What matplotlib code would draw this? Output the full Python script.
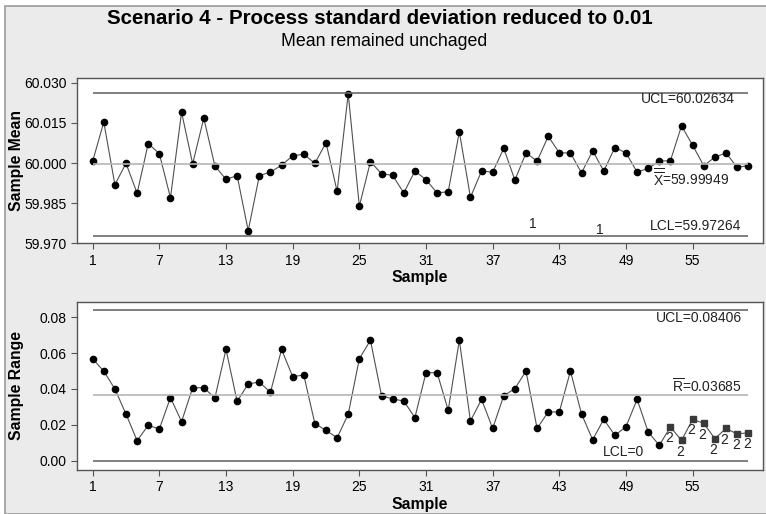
import matplotlib.pyplot as plt
from matplotlib.patches import Rectangle

plt.rcParams['font.family'] = ['Liberation Sans', 'DejaVu Sans']
plt.rcParams['mathtext.fontset'] = 'custom'
plt.rcParams['mathtext.rm'] = 'Liberation Sans'
plt.rcParams['mathtext.it'] = 'Liberation Sans'

# sample numbers 1..60
samples = list(range(1, 61))

# sample means
means = [60.0007, 60.0153, 59.9919, 59.9999, 59.9887, 60.0073, 60.0035, 59.9870, 60.0190, 59.9997,
         60.0168, 59.9989, 59.9939, 59.9953, 59.9747, 59.9953, 59.9966, 59.9992, 60.0027, 60.0033,
         59.9999, 60.0076, 59.9894, 60.0259, 59.9839, 60.0005, 59.9960, 59.9954, 59.9888, 59.9970,
         59.9938, 59.9888, 59.9893, 60.0117, 59.9872, 59.9970, 59.9966, 60.0055, 59.9936, 60.0038,
         60.0007, 60.0100, 60.0038, 60.0038, 59.9963, 60.0046, 59.9970, 60.0058, 60.0038, 59.9966,
         59.9980, 60.0007, 60.0009, 60.0139, 60.0066, 59.9990, 60.0022, 60.0038, 59.9984, 59.9990]

# sample ranges
ranges = [0.0569, 0.0499, 0.0400, 0.0260, 0.0112, 0.0197, 0.0177, 0.0352, 0.0218, 0.0407,
          0.0407, 0.0350, 0.0621, 0.0331, 0.0428, 0.0439, 0.0381, 0.0621, 0.0469, 0.0478,
          0.0207, 0.0169, 0.0128, 0.0259, 0.0569, 0.0672, 0.0363, 0.0344, 0.0333, 0.0240,
          0.0491, 0.0491, 0.0281, 0.0673, 0.0221, 0.0342, 0.0180, 0.0363, 0.0402, 0.0500,
          0.0180, 0.0272, 0.0272, 0.0500, 0.0260, 0.0117, 0.0231, 0.0141, 0.0190, 0.0342,
          0.0160, 0.0086, 0.0188, 0.0113, 0.0231, 0.0208, 0.0123, 0.0180, 0.0149, 0.0156]

# samples flagged by test 2 on the R chart
flagged = list(range(53, 61))

xbar_ucl, xbar_cl, xbar_lcl = 60.02634, 59.99949, 59.97264
r_ucl, r_cl, r_lcl = 0.08406, 0.03685, 0.0

xticks = [1, 7, 13, 19, 25, 31, 37, 43, 49, 55]

fig = plt.figure(figsize=(7.66, 5.14), dpi=100)
fig.patch.set_facecolor('white')
fig.patches.append(Rectangle((5 / 766, 0), 1, 1 - 6 / 514, transform=fig.transFigure,
                             facecolor='#ebebeb', edgecolor='#9a9a9a', lw=1.2, zorder=-10))

fig.text(0.496, 1 - 19 / 514, 'Scenario 4 - Process standard deviation reduced to 0.01',
         ha='center', va='center', fontsize=14.8, fontweight='bold')
fig.text(0.502, 1 - 42 / 514, 'Mean remained unchaged', ha='center', va='center', fontsize=12.8)

ax1 = fig.add_axes([0.1001, 0.5267, 0.8964, 0.3221])
ax2 = fig.add_axes([0.1001, 0.0856, 0.8964, 0.3274])

line_col = '#505050'
for ax in (ax1, ax2):
    ax.set_facecolor('white')
    for s in ax.spines.values():
        s.set_color('#555555')
        s.set_linewidth(1.0)
    ax.set_xlim(-0.44, 61.36)
    ax.set_xticks(xticks)
    ax.tick_params(direction='out', length=4, width=0.8, color='#555555', labelsize=10)
    ax.set_xlabel('Sample', fontsize=11.3, fontweight='bold', labelpad=2)

# Xbar chart
ax1.plot(samples, means, color=line_col, lw=0.8, marker='o', markersize=4.5,
         markerfacecolor='black', markeredgecolor='black')
ax1.hlines([xbar_ucl, xbar_lcl], 1, 60, colors='#6a6a6a', lw=1.2)
ax1.hlines(xbar_cl, 1, 60, colors='#b5b5b5', lw=1.2)
ax1.set_ylim(59.970, 60.0319)
ax1.set_yticks([59.970, 59.985, 60.000, 60.015, 60.030])
ax1.set_yticklabels(['59.970', '59.985', '60.000', '60.015', '60.030'])
ax1.set_ylabel('Sample Mean', fontsize=11.3, fontweight='bold', va='center')
ax1.yaxis.set_label_coords(-0.088, 0.5)
ax1.text(58.82, 60.0238, 'UCL=60.02634', ha='right', va='center', fontsize=10, color='#222222')
ax1.text(51.43, 59.9944, r'$\overline{\overline{\mathrm{X}}}$=59.99949', ha='left', va='center',
         fontsize=10, color='#222222')
ax1.text(59.40, 59.9765, 'LCL=59.97264', ha='right', va='center', fontsize=10, color='#222222')
ax1.text(40.6, 59.9771, '1', ha='center', va='center', fontsize=10, color='#222222')
ax1.text(46.67, 59.9750, '1', ha='center', va='center', fontsize=10, color='#222222')

# R chart
ax2.plot(samples, ranges, color=line_col, lw=0.8)
normal = [s for s in samples if s not in flagged]
ax2.plot(normal, [ranges[s - 1] for s in normal], 'o', markersize=4.5, color='black')
ax2.plot(flagged, [ranges[s - 1] for s in flagged], 's', markersize=4.5, color='#3a3a3a')
for s in flagged:
    ax2.annotate('2', (s, ranges[s - 1]), xytext=(-1, -8), textcoords='offset points',
                 ha='center', va='center', fontsize=10, color='#222222')
ax2.hlines([r_ucl, r_lcl], 1, 60, colors='#6a6a6a', lw=1.2)
ax2.hlines(r_cl, 1, 60, colors='#b5b5b5', lw=1.2)
ax2.set_ylim(-0.0052, 0.0887)
ax2.set_yticks([0.00, 0.02, 0.04, 0.06, 0.08])
ax2.set_yticklabels(['0.00', '0.02', '0.04', '0.06', '0.08'])
ax2.set_ylabel('Sample Range', fontsize=11.3, fontweight='bold', va='center')
ax2.yaxis.set_label_coords(-0.088, 0.5)
ax2.text(59.42, 0.0798, 'UCL=0.08406', ha='right', va='center', fontsize=10, color='#222222')
ax2.text(59.42, 0.0413, r'$\overline{\mathrm{R}}$=0.03685', ha='right', va='center',
         fontsize=10, color='#222222')
ax2.text(48.8, 0.0047, 'LCL=0', ha='center', va='center', fontsize=10, color='#222222')

fig.savefig('out.png', dpi=100, facecolor=fig.get_facecolor())
